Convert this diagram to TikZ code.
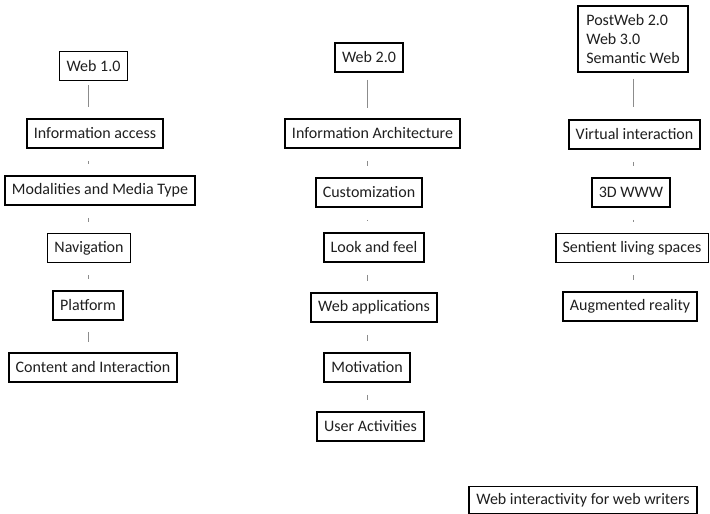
\documentclass[tikz,border=0pt]{standalone}
\usepackage{fontspec}
\setmainfont{Carlito}
\usetikzlibrary{calc}
\tikzset{
  box/.style={draw=black, line width=1.8pt, fill=white, inner xsep=7pt, inner ysep=0pt,
    minimum height=29pt, text=black!88, font=\fontsize{16}{19}\selectfont},
  link/.style={draw=black!45, line width=0.8pt},
  tick/.style={link, shorten <=12pt, shorten >=11pt},
}
\begin{document}
\begin{tikzpicture}[x=1pt,y=-1pt]
  \useasboundingbox (0,0) rectangle (710,514);
  \fill[white] (0,0) rectangle (710,514);

  % column axes
  \coordinate (c1) at (88,0);
  \coordinate (c2) at (367,0);
  \coordinate (c3) at (633,0);

  % Web 1.0
  \node[box] (w1)   at (93.5,66)   {Web 1.0};
  \node[box] (ia)   at (95,133.5)  {Information access};
  \node[box] (mm)   at (100,190.5) {Modalities and Media Type};
  \node[box] (nav)  at (89,248)    {Navigation};
  \node[box] (plat) at (88,305.5)  {Platform};
  \node[box] (ci)   at (93,367.5)  {Content and Interaction};

  % Web 2.0
  \node[box] (w2)    at (369,57.5)   {Web 2.0};
  \node[box] (iarch) at (372.5,133.5){Information Architecture};
  \node[box] (cust)  at (369,192.5)  {Customization};
  \node[box] (lf)    at (374,247.5)  {Look and feel};
  \node[box] (wa)    at (374,307.5)  {Web applications};
  \node[box] (mot)   at (367,367.5)  {Motivation};
  \node[box] (ua)    at (370.5,426.5){User Activities};

  % Web 3.0
  \node[box, align=left, minimum width=110pt, minimum height=66pt] (pw) at (633,39)
    {PostWeb 2.0\\Web 3.0\\Semantic Web};
  \node[box] (vi)  at (634.5,134.5) {Virtual interaction};
  \node[box] (www) at (631,192.5)   {3D WWW};
  \node[box] (sls) at (632,248)     {Sentient living spaces};
  \node[box] (ar)  at (630,306.5)   {Augmented reality};

  \node[box, minimum height=27pt] (wi) at (583,500) {Web interactivity for web writers};

  % connectors, column 1
  \draw[link, shorten <=4pt, shorten >=11pt] (w1.south -| c1) -- (ia.north -| c1);
  \draw[tick] (ia.south -| c1) -- (mm.north -| c1);
  \draw[tick] (mm.south -| c1) -- (nav.north -| c1);
  \draw[tick] (nav.south -| c1) -- (plat.north -| c1);
  \draw[link, shorten <=11pt, shorten >=10pt] (plat.south -| c1) -- (ci.north -| c1);

  % connectors, column 2
  \draw[link, shorten <=7pt, shorten >=10pt] (w2.south -| c2) -- (iarch.north -| c2);
  \draw[tick] (iarch.south -| c2) -- (cust.north -| c2);
  \draw[tick] (cust.south -| c2) -- (lf.north -| c2);
  \draw[tick] (lf.south -| c2) -- (wa.north -| c2);
  \draw[tick] (wa.south -| c2) -- (mot.north -| c2);
  \draw[tick] (mot.south -| c2) -- (ua.north -| c2);

  % connectors, column 3
  \draw[link, shorten <=6pt, shorten >=12pt] (pw.south -| c3) -- (vi.north -| c3);
  \draw[tick] (vi.south -| c3) -- (www.north -| c3);
  \draw[tick] (www.south -| c3) -- (sls.north -| c3);
  \draw[tick] (sls.south -| c3) -- (ar.north -| c3);
\end{tikzpicture}
\end{document}
